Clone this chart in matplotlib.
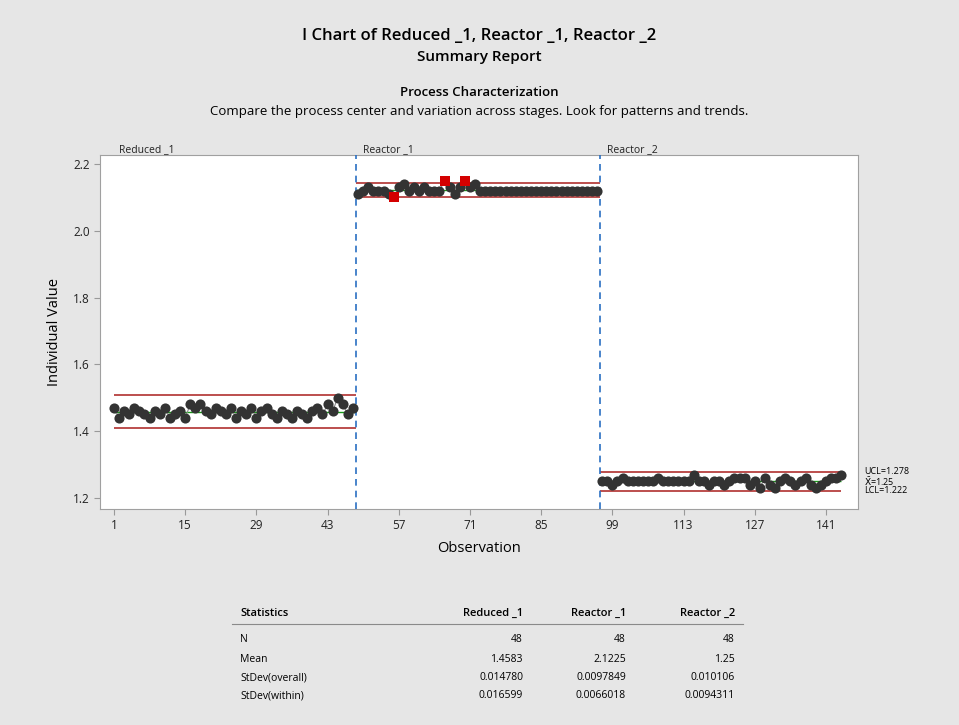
import matplotlib
matplotlib.use("Agg")
import matplotlib.pyplot as plt
import numpy as np

plt.rcParams["font.family"] = ["Open Sans", "DejaVu Sans"]

stages = ["Reduced _1", "Reactor _1", "Reactor _2"]

reduced_1 = [
    1.47, 1.44, 1.46, 1.45, 1.47, 1.46, 1.45, 1.44, 1.46, 1.45,
    1.47, 1.44, 1.45, 1.46, 1.44, 1.48, 1.47, 1.48, 1.46, 1.45,
    1.47, 1.46, 1.45, 1.47, 1.44, 1.46, 1.45, 1.47, 1.44, 1.46,
    1.47, 1.45, 1.44, 1.46, 1.45, 1.44, 1.46, 1.45, 1.44, 1.46,
    1.47, 1.45, 1.48, 1.46, 1.50, 1.48, 1.45, 1.47,
]
reactor_1 = [
    2.11, 2.12, 2.13, 2.12, 2.12, 2.12, 2.11, 2.10, 2.13, 2.14,
    2.12, 2.13, 2.12, 2.13, 2.12, 2.12, 2.12, 2.15, 2.13, 2.11,
    2.13, 2.15, 2.13, 2.14,
] + [2.12] * 24
reactor_2 = [
    1.25, 1.25, 1.24, 1.25, 1.26, 1.25, 1.25, 1.25, 1.25, 1.25,
    1.25, 1.26, 1.25, 1.25, 1.25, 1.25, 1.25, 1.25, 1.27, 1.25,
    1.25, 1.24, 1.25, 1.25, 1.24, 1.25, 1.26, 1.26, 1.26, 1.24,
    1.25, 1.23, 1.26, 1.24, 1.23, 1.25, 1.26, 1.25, 1.24, 1.25,
    1.26, 1.24, 1.23, 1.24, 1.25, 1.26, 1.26, 1.27,
]

# summary statistics per stage
stat_names = ["N", "Mean", "StDev(overall)", "StDev(within)"]
n_obs = [48, 48, 48]
means = [1.4583, 2.1225, 1.25]
sd_overall = ["0.014780", "0.0097849", "0.010106"]
sd_within = [0.016599, 0.0066018, 0.0094311]
sd_within_txt = ["0.016599", "0.0066018", "0.0094311"]
mean_txt = ["1.4583", "2.1225", "1.25"]

x_ticks = [1, 15, 29, 43, 57, 71, 85, 99, 113, 127, 141]
y_ticks = [1.2, 1.4, 1.6, 1.8, 2.0, 2.2]

BG = "#e6e6e6"
LIMIT_RED = "#b0302f"
CENTER_GREEN = "#1a9a1a"
POINT = "#333333"
FLAG = "#d40000"
STAGE_BLUE = "#2a6fc2"

fig = plt.figure(figsize=(9.59, 7.25), dpi=100, facecolor=BG)
W, H = 959, 725


def fx(px):
    return px / W


def fy(py):
    return 1 - py / H


ax = fig.add_axes([fx(100), fy(509), fx(858) - fx(100), fy(155) - fy(509)])
ax.set_facecolor("white")

series = [reduced_1, reactor_1, reactor_2]
start = 1
for i, vals in enumerate(series):
    vals = np.array(vals)
    obs = np.arange(start, start + len(vals))
    ucl = means[i] + 3 * sd_within[i]
    lcl = means[i] - 3 * sd_within[i]
    x0 = start if i == 0 else start - 0.5
    x1 = obs[-1] + 0.5 if i < len(series) - 1 else obs[-1]
    ax.hlines([ucl, lcl], x0, x1, color=LIMIT_RED, lw=1.2, zorder=2)
    ax.hlines(means[i], x0, x1, color=CENTER_GREEN, lw=1.0, zorder=2)
    ax.plot(obs, vals, color="#8c8c8c", lw=0.8, zorder=3)
    out = (vals > ucl) | (vals < lcl)
    ax.plot(obs[~out], vals[~out], "o", color=POINT, ms=7.3, mew=0, zorder=4)
    ax.plot(obs[out], vals[out], "s", color=FLAG, ms=7, mew=0, zorder=5)
    ax.text(start + 1, 1.0, stages[i], transform=ax.get_xaxis_transform(),
            ha="left", va="bottom", fontsize=7.5, color="#222222")
    if i > 0:
        ax.axvline(start - 0.5, color=STAGE_BLUE, lw=1.2, ls=(0, (4, 3)), zorder=3)
    if i == len(series) - 1:
        tr = ax.get_yaxis_transform()
        ax.text(1.008, ucl, f"UCL={ucl:.3f}", transform=tr, fontsize=6.5,
                va="center", ha="left", clip_on=False)
        ax.text(1.008, means[i], r"$\bar{\mathrm{X}}$" + f"={means[i]:g}", transform=tr,
                fontsize=6.5, va="center", ha="left", clip_on=False)
        ax.text(1.008, lcl, f"LCL={lcl:.3f}", transform=tr, fontsize=6.5,
                va="center", ha="left", clip_on=False)
    start += len(vals)

ax.set_xlim(-1.75, 147.3)
ax.set_ylim(1.167, 2.227)
ax.set_xticks(x_ticks)
ax.set_yticks(y_ticks)
ax.set_yticklabels([f"{v:.1f}" for v in y_ticks])
ax.tick_params(labelsize=8.5, colors="#222222", length=4, color="#999999")
for s in ax.spines.values():
    s.set_color("#a0a0a0")
ax.set_xlabel("Observation", fontsize=10.5, labelpad=6)
ax.set_ylabel("Individual Value", fontsize=10.5, labelpad=8)

fig.text(0.5, fy(36), "I Chart of Reduced _1, Reactor _1, Reactor _2",
         ha="center", va="center", fontsize=12, weight="semibold")
fig.text(0.5, fy(57), "Summary Report", ha="center", va="center",
         fontsize=11, weight="semibold")
fig.text(0.5, fy(92), "Process Characterization", ha="center", va="center",
         fontsize=9.5, weight="semibold")
fig.text(0.5, fy(112),
         "Compare the process center and variation across stages. Look for patterns and trends.",
         ha="center", va="center", fontsize=9.5)

# statistics table
col_x = [523, 626, 735]
fig.text(fx(240), fy(613), "Statistics", ha="left", va="center",
         fontsize=8, weight="semibold")
for cx, name in zip(col_x, stages):
    fig.text(fx(cx), fy(613), name, ha="right", va="center",
             fontsize=8, weight="semibold")
fig.add_artist(plt.Line2D([fx(232), fx(743)], [fy(624), fy(624)],
                          color="#8a8a8a", lw=0.8))
rows = [
    [str(n) for n in n_obs],
    mean_txt,
    sd_overall,
    sd_within_txt,
]
row_y = [640, 659, 678, 696]
for name, vals, ry in zip(stat_names, rows, row_y):
    fig.text(fx(240), fy(ry), name, ha="left", va="center", fontsize=7.5)
    for cx, v in zip(col_x, vals):
        fig.text(fx(cx), fy(ry), v, ha="right", va="center", fontsize=7.5)

fig.savefig("out.png", dpi=100, facecolor=BG)
